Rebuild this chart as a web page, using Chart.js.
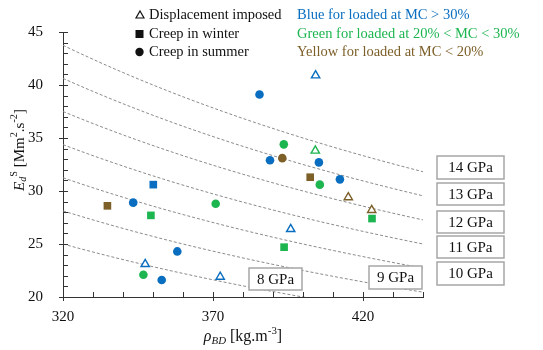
<!DOCTYPE html>
<html>
<head>
<meta charset="utf-8">
<script src="https://cdn.jsdelivr.net/npm/chart.js@4.4.1/dist/chart.umd.min.js"></script>
<style>
  html, body { margin: 0; background: #fff; }
  #wrap { width: 543px; height: 350px; }
</style>
</head>
<body>
<div id="wrap"><canvas id="chart"></canvas></div>
<script>
// iso-modulus curves, GPa  (Ed/S = E / rho)
const moduli = [8, 9, 10, 11, 12, 13, 14];

// [rho_BD, Ed/S]
const blueImposed = [[404.2, 40.9], [395.9, 26.4], [347.4, 23.1], [372.4, 21.9]];
const blueWinter = [[350.1, 30.6]];
const blueSummer = [[385.5, 39.1], [389.0, 32.9], [405.3, 32.7], [412.3, 31.1], [343.4, 28.9], [358.1, 24.3], [352.9, 21.6]];
const greenImposed = [[404.1, 33.8]];
const greenWinter = [[349.3, 27.7], [393.7, 24.7], [423.0, 27.4]];
const greenSummer = [[393.6, 34.4], [405.6, 30.6], [370.9, 28.8], [346.8, 22.1]];
const yellowImposed = [[415.1, 29.4], [422.9, 28.2]];
const yellowWinter = [[334.8, 28.6], [402.4, 31.3]];
const yellowSummer = [[393.1, 33.1]];

const xTicks = [320, 370, 420];
const yTicks = [20, 25, 30, 35, 40, 45];

const BLUE = "#0a6ec0";
const GREEN = "#1db550";
const BROWN = "#7d5f28";
const FONT = "'Liberation Serif', 'Times New Roman', serif";

const pts = arr => arr.map(p => ({ x: p[0], y: p[1] }));

function markers(data, color, shape) {
  const tri = shape === "triangle";
  return {
    type: "scatter",
    data: pts(data),
    pointStyle: shape,
    pointRadius: shape === "rect" ? 5.4 : tri ? 4.8 : 4.3,
    pointBackgroundColor: tri ? "#fff" : color,
    pointBorderColor: color,
    pointBorderWidth: tri ? 1.4 : 0,
    order: 0
  };
}

const curves = moduli.map(e => {
  const line = [];
  for (let r = 320; r <= 446; r += 2) line.push({ x: r, y: e * 1000 / r });
  return {
    type: "line",
    data: line,
    borderColor: "#8a8a8a",
    borderWidth: 1,
    borderDash: [3, 2],
    pointRadius: 0,
    tension: 0,
    clip: { left: 0, top: 0, right: 16, bottom: 0 },
    order: 10
  };
});

// rich text helper
function drawRich(ctx, parts, x, y, size) {
  let cx = x;
  parts.forEach(p => {
    const s = p.sub || p.sup ? size * 0.68 : size;
    ctx.font = (p.i ? "italic " : "") + s + "px " + FONT;
    const dy = p.sub ? size * 0.25 : p.sup ? -size * 0.38 : 0;
    ctx.fillText(p.t, cx, y + dy);
    cx += ctx.measureText(p.t).width;
  });
  return cx - x;
}
function richWidth(ctx, parts, size) {
  let w = 0;
  parts.forEach(p => {
    const s = p.sub || p.sup ? size * 0.68 : size;
    ctx.font = (p.i ? "italic " : "") + s + "px " + FONT;
    w += ctx.measureText(p.t).width;
  });
  return w;
}

const boxes = [
  { t: "14 GPa", l: 437, top: 156, w: 67, h: 23 },
  { t: "13 GPa", l: 437, top: 183, w: 67, h: 22 },
  { t: "12 GPa", l: 437, top: 211, w: 67, h: 22 },
  { t: "11 GPa", l: 437, top: 236, w: 67, h: 22 },
  { t: "10 GPa", l: 437, top: 262, w: 67, h: 23 },
  { t: "9 GPa", l: 369, top: 266, w: 53, h: 23 },
  { t: "8 GPa", l: 249, top: 268, w: 53, h: 22 }
];

const decor = {
  id: "decor",
  afterDatasetsDraw(chart) {
    const ctx = chart.ctx;
    const xs = chart.scales.x, ys = chart.scales.y;
    ctx.save();
    // minor / major ticks
    ctx.strokeStyle = "#333";
    ctx.lineWidth = 1;
    const y0 = ys.getPixelForValue(20), x0 = xs.getPixelForValue(320);
    for (let v = 320; v <= 440; v += 10) {
      const px = Math.round(xs.getPixelForValue(v)) + 0.5;
      const major = xTicks.includes(v);
      ctx.beginPath();
      ctx.moveTo(px, y0 - 5);
      ctx.lineTo(px, y0 + (major ? 4 : 0));
      ctx.stroke();
    }
    for (let v = 20; v <= 45; v += 1) {
      const py = Math.round(ys.getPixelForValue(v)) + 0.5;
      const major = yTicks.includes(v);
      ctx.beginPath();
      ctx.moveTo(x0 - (major ? 4 : 0), py);
      ctx.lineTo(x0 + 5, py);
      ctx.stroke();
    }
    // modulus labels
    ctx.textBaseline = "middle";
    ctx.textAlign = "center";
    boxes.forEach(b => {
      ctx.fillStyle = "#fff";
      ctx.fillRect(b.l, b.top, b.w, b.h);
      ctx.strokeStyle = "#a6a6a6";
      ctx.lineWidth = 1.5;
      ctx.strokeRect(b.l, b.top, b.w, b.h);
      ctx.fillStyle = "#111";
      ctx.font = "15px " + FONT;
      ctx.fillText(b.t, b.l + b.w / 2, b.top + b.h / 2 + 1);
    });
    ctx.restore();
  },
  afterDraw(chart) {
    const ctx = chart.ctx;
    ctx.save();
    ctx.textBaseline = "middle";
    ctx.textAlign = "left";
    // legend
    const rows = [15, 34, 52];
    ctx.fillStyle = "#111";
    ctx.strokeStyle = "#111";
    ctx.lineWidth = 1.2;
    ctx.beginPath();
    ctx.moveTo(140, rows[0] - 4);
    ctx.lineTo(144, rows[0] + 3);
    ctx.lineTo(136, rows[0] + 3);
    ctx.closePath();
    ctx.stroke();
    ctx.fillRect(135.5, rows[1] - 4, 8, 8);
    ctx.beginPath();
    ctx.arc(139.5, rows[2], 4.2, 0, Math.PI * 2);
    ctx.fill();
    ctx.font = "14.5px " + FONT;
    ctx.fillText("Displacement imposed", 149, rows[0]);
    ctx.fillText("Creep in winter", 149, rows[1]);
    ctx.fillText("Creep in summer", 149, rows[2]);
    ctx.fillStyle = BLUE;
    ctx.fillText("Blue for loaded at MC > 30%", 297, rows[0]);
    ctx.fillStyle = GREEN;
    ctx.fillText("Green for loaded at 20% < MC < 30%", 297, rows[1]);
    ctx.fillStyle = BROWN;
    ctx.fillText("Yellow for loaded at MC < 20%", 297, rows[2]);

    // axis titles
    ctx.fillStyle = "#111";
    const xt = [{ t: "ρ", i: true }, { t: "BD", i: true, sub: true }, { t: " [kg.m" }, { t: "-3", sup: true }, { t: "]" }];
    const xw = richWidth(ctx, xt, 16);
    drawRich(ctx, xt, 243 - xw / 2, 337, 16);

    const yt = [{ t: "E", i: true }, { t: "d", i: true, sub: true }, { t: "S", sup: true }, { t: " [Mm" }, { t: "2", sup: true }, { t: ".s" }, { t: "-2", sup: true }, { t: "]" }];
    const yw = richWidth(ctx, yt, 15);
    ctx.translate(20, 150);
    ctx.rotate(-Math.PI / 2);
    drawRich(ctx, yt, -yw / 2, 0, 15);
    ctx.restore();
  }
};

new Chart(document.getElementById("chart"), {
  type: "scatter",
  data: {
    datasets: [
      markers(blueImposed, BLUE, "triangle"),
      markers(blueWinter, BLUE, "rect"),
      markers(blueSummer, BLUE, "circle"),
      markers(greenImposed, GREEN, "triangle"),
      markers(greenWinter, GREEN, "rect"),
      markers(greenSummer, GREEN, "circle"),
      markers(yellowImposed, BROWN, "triangle"),
      markers(yellowWinter, BROWN, "rect"),
      markers(yellowSummer, BROWN, "circle"),
      ...curves
    ]
  },
  options: {
    responsive: true,
    maintainAspectRatio: false,
    animation: false,
    events: [],
    layout: { padding: { left: 0, top: 32, right: 120, bottom: 0 } },
    plugins: { legend: { display: false }, tooltip: { enabled: false } },
    scales: {
      x: {
        type: "linear",
        min: 320,
        max: 440,
        afterFit: s => { s.height = 53; },
        afterBuildTicks: s => { s.ticks = xTicks.map(v => ({ value: v })); },
        grid: { display: false },
        border: { display: true, color: "#333", width: 1 },
        ticks: { color: "#111", font: { family: FONT, size: 15 }, padding: 3, maxRotation: 0 }
      },
      y: {
        type: "linear",
        min: 20,
        max: 45,
        afterFit: s => { s.width = 63; },
        afterBuildTicks: s => { s.ticks = yTicks.map(v => ({ value: v })); },
        grid: { display: false },
        border: { display: true, color: "#333", width: 1 },
        ticks: { color: "#111", font: { family: FONT, size: 15 }, padding: 12 }
      }
    }
  },
  plugins: [decor]
});
</script>
</body>
</html>
